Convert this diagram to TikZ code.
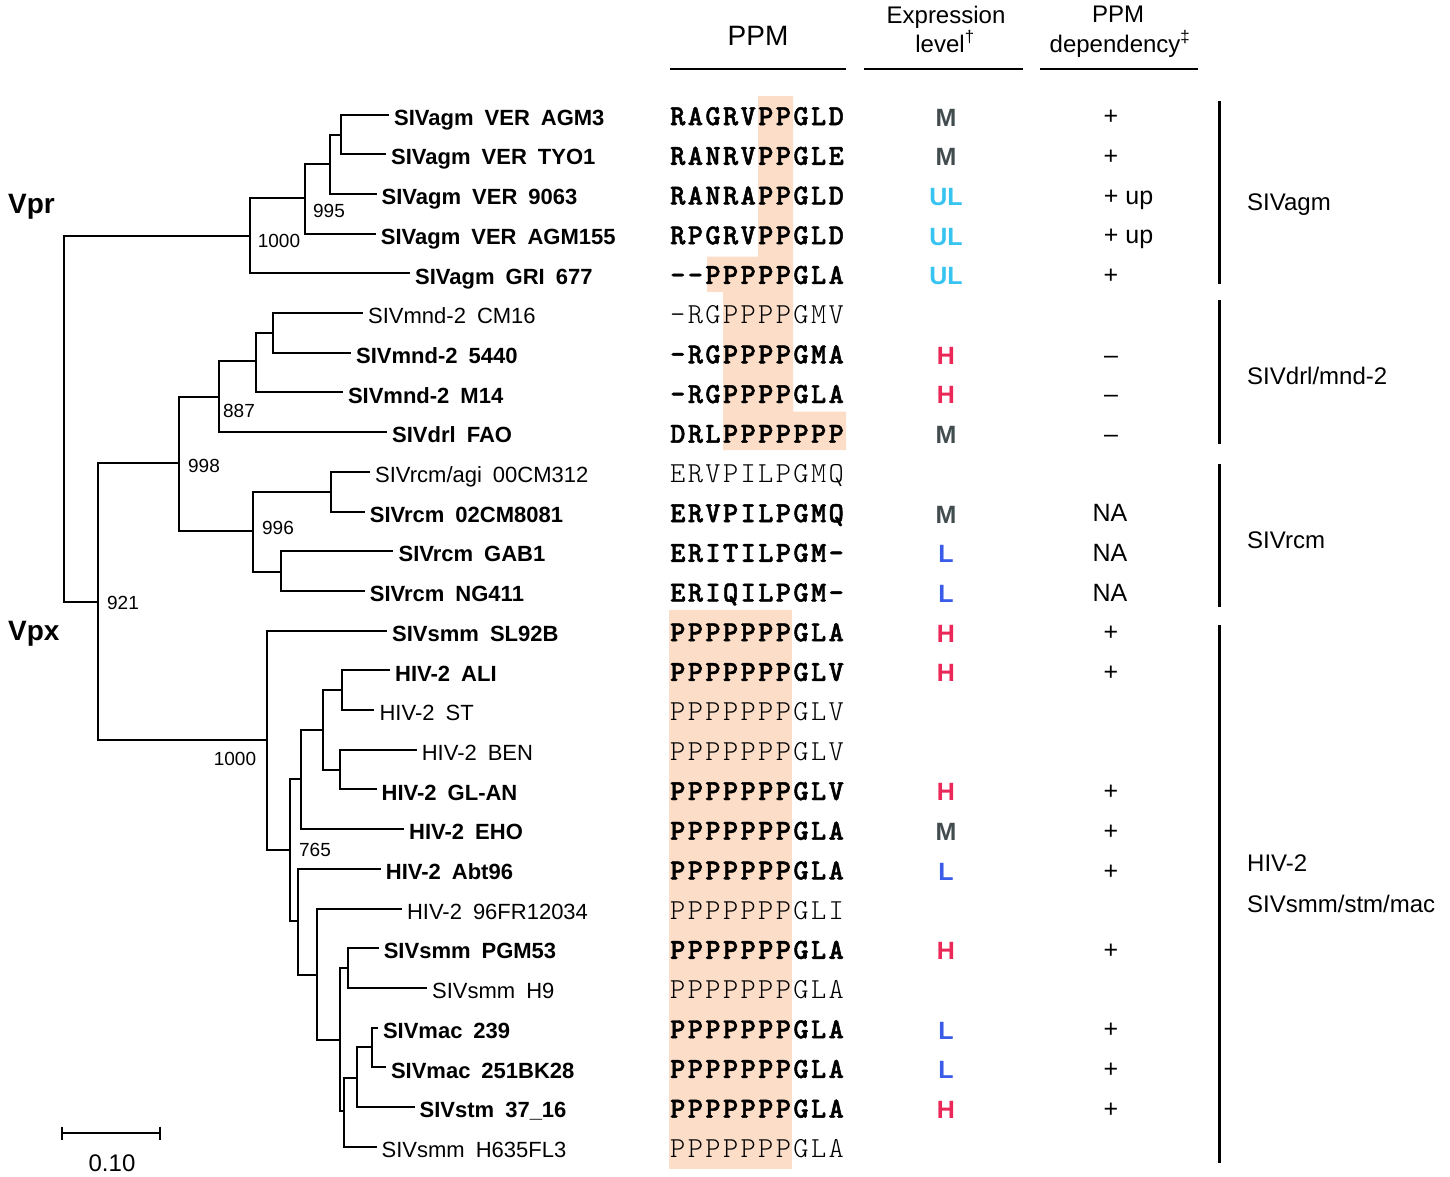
\documentclass[tikz,border=0pt]{standalone}
\usepackage{fontspec}
\setmainfont{Liberation Sans}
\newfontfamily\ppmfont{lmmonolt10}[Extension=.otf, UprightFont=*-regular, BoldFont=*-bold, BoldFeatures={FakeBold=1.6}, LetterSpace=8.2]
\usetikzlibrary{positioning}
\definecolor{ppmshade}{RGB}{251,221,200}
\definecolor{levM}{RGB}{66,76,79}
\definecolor{levUL}{RGB}{56,196,240}
\definecolor{levH}{RGB}{236,40,88}
\definecolor{levL}{RGB}{58,92,232}
\newcommand{\taxspace}{\spaceskip=0.5em\relax}
\tikzstyle{branch} = [line width=2pt, line cap=rect]
\tikzstyle{taxon} = [anchor=base west, inner sep=0pt, xshift=6pt, yshift=-10.7pt, font=\fontsize{22}{26}\selectfont\taxspace]
\tikzstyle{taxonb} = [taxon, font=\fontsize{22}{26}\selectfont\bfseries\taxspace]
\tikzstyle{boot} = [inner sep=0pt, font=\fontsize{19}{22}\selectfont]
\tikzstyle{gene} = [anchor=base west, inner sep=0pt, font=\fontsize{28}{32}\selectfont\bfseries]
\tikzstyle{motif} = [anchor=base west, inner sep=0pt, yshift=-10.6pt, font=\ppmfont\fontsize{29}{32}\selectfont]
\tikzstyle{motifb} = [motif, font=\ppmfont\bfseries\fontsize{29}{32}\selectfont]
\tikzstyle{level} = [anchor=base, inner sep=0pt, yshift=-11.5pt, font=\fontsize{25}{28}\selectfont\bfseries]
\tikzstyle{dep} = [anchor=base, inner sep=0pt, yshift=-10.3pt, font=\fontsize{25}{28}\selectfont]
\tikzstyle{depup} = [dep, anchor=base west, xshift=-7.3pt]
\tikzstyle{head} = [anchor=base, inner sep=0pt, font=\fontsize{24}{28}\selectfont]
\tikzstyle{clade} = [anchor=base west, inner sep=0pt, font=\fontsize{24}{28}\selectfont]
\tikzstyle{rule} = [line width=2pt]
\tikzstyle{bar} = [line width=3pt]

\begin{document}
\begin{tikzpicture}[x=1pt, y=-1pt]
\useasboundingbox (0,0) rectangle (1450,1176);

% PPM shading
\fill[ppmshade] (758,96) -- (793,96) -- (793,411.7) -- (846,411.7) -- (846,450) -- (723,450) -- (723,292) -- (707,292) -- (707,256.7) -- (758,256.7) -- cycle;
\fill[ppmshade] (669,610) rectangle (792,1169);

% inner nodes of the tree
\coordinate (root) at (64,419);
\coordinate (vpr) at (250,235.7);
\coordinate (agmA) at (304.6,198);
\coordinate (agmB) at (329.5,164);
\coordinate (agmC) at (341,135);
\coordinate (vpx) at (97.9,602.3);
\coordinate (drlrcm) at (179.3,463.3);
\coordinate (drl) at (219.4,397.3);
\coordinate (mndA) at (256,361);
\coordinate (mndB) at (273.4,332.7);
\coordinate (rcm) at (253,530.7);
\coordinate (rcmA) at (331,491.7);
\coordinate (rcmB) at (280.6,571.7);
\coordinate (hiv) at (267,740);
\coordinate (hivA) at (289.5,850);
\coordinate (hivB) at (300.8,779);
\coordinate (hivC) at (322.8,730);
\coordinate (hivD) at (341.8,690);
\coordinate (hivE) at (339.7,770);
\coordinate (smmA) at (297.5,920.7);
\coordinate (smmB) at (316.5,975);
\coordinate (smmC) at (339.7,1040);
\coordinate (smmD) at (348,968.3);
\coordinate (smmE) at (343.9,1110.7);
\coordinate (macA) at (356.5,1078.3);
\coordinate (macB) at (372,1046.7);

% leaves
\coordinate (t1) at (388,114.5);
\coordinate (t2) at (385,154.2);
\coordinate (t3) at (375.5,193.9);
\coordinate (t4) at (374.7,233.6);
\coordinate (t5) at (409,273.3);
\coordinate (t6) at (362,313.0);
\coordinate (t7) at (350,352.7);
\coordinate (t8) at (341.8,392.4);
\coordinate (t9) at (386,432.1);
\coordinate (t10) at (369,471.8);
\coordinate (t11) at (363.7,511.5);
\coordinate (t12) at (392.4,551.2);
\coordinate (t13) at (363.7,590.9);
\coordinate (t14) at (386,630.6);
\coordinate (t15) at (389,670.3);
\coordinate (t16) at (373.4,710.0);
\coordinate (t17) at (415.6,749.7);
\coordinate (t18) at (375.5,789.4);
\coordinate (t19) at (403,829.1);
\coordinate (t20) at (379.7,868.8);
\coordinate (t21) at (400.8,908.5);
\coordinate (t22) at (377.6,948.2);
\coordinate (t23) at (426,987.9);
\coordinate (t24) at (376.8,1027.6);
\coordinate (t25) at (384.8,1067.3);
\coordinate (t26) at (413.5,1107.0);
\coordinate (t27) at (375.5,1146.7);

\node (agm3) [taxonb] at (t1) {SIVagm VER AGM3};
\node (tyo1) [taxonb] at (t2) {SIVagm VER TYO1};
\node (v9063) [taxonb] at (t3) {SIVagm VER 9063};
\node (agm155) [taxonb] at (t4) {SIVagm VER AGM155};
\node (gri677) [taxonb] at (t5) {SIVagm GRI 677};
\node (cm16) [taxon] at (t6) {SIVmnd-2 CM16};
\node (m5440) [taxonb] at (t7) {SIVmnd-2 5440};
\node (m14) [taxonb] at (t8) {SIVmnd-2 M14};
\node (fao) [taxonb] at (t9) {SIVdrl FAO};
\node (cm312) [taxon] at (t10) {SIVrcm/agi 00CM312};
\node (cm8081) [taxonb] at (t11) {SIVrcm 02CM8081};
\node (gab1) [taxonb] at (t12) {SIVrcm GAB1};
\node (ng411) [taxonb] at (t13) {SIVrcm NG411};
\node (sl92b) [taxonb] at (t14) {SIVsmm SL92B};
\node (ali) [taxonb] at (t15) {HIV-2 ALI};
\node (st) [taxon] at (t16) {HIV-2 ST};
\node (ben) [taxon] at (t17) {HIV-2 BEN};
\node (glan) [taxonb] at (t18) {HIV-2 GL-AN};
\node (eho) [taxonb] at (t19) {HIV-2 EHO};
\node (abt96) [taxonb] at (t20) {HIV-2 Abt96};
\node (fr12034) [taxon] at (t21) {HIV-2 96FR12034};
\node (pgm53) [taxonb] at (t22) {SIVsmm PGM53};
\node (h9) [taxon] at (t23) {SIVsmm H9};
\node (mac239) [taxonb] at (t24) {SIVmac 239};
\node (bk28) [taxonb] at (t25) {SIVmac 251BK28};
\node (stm) [taxonb] at (t26) {SIVstm 37\_16};
\node (h635) [taxon] at (t27) {SIVsmm H635FL3};

% branches
\draw[branch] (root) |- (vpr) (root) |- (vpx);
\draw[branch] (vpr) |- (agmA) (vpr) |- (t5);
\draw[branch] (agmA) |- (agmB) (agmA) |- (t4);
\draw[branch] (agmB) |- (agmC) (agmB) |- (t3);
\draw[branch] (agmC) |- (t1) (agmC) |- (t2);
\draw[branch] (vpx) |- (drlrcm) (vpx) |- (hiv);
\draw[branch] (drlrcm) |- (drl) (drlrcm) |- (rcm);
\draw[branch] (drl) |- (mndA) (drl) |- (t9);
\draw[branch] (mndA) |- (mndB) (mndA) |- (t8);
\draw[branch] (mndB) |- (t6) (mndB) |- (t7);
\draw[branch] (rcm) |- (rcmA) (rcm) |- (rcmB);
\draw[branch] (rcmA) |- (t10) (rcmA) |- (t11);
\draw[branch] (rcmB) |- (t12) (rcmB) |- (t13);
\draw[branch] (hiv) |- (t14) (hiv) |- (hivA);
\draw[branch] (hivA) |- (hivB) (hivA) |- (smmA);
\draw[branch] (hivB) |- (hivC) (hivB) |- (t19);
\draw[branch] (hivC) |- (hivD) (hivC) |- (hivE);
\draw[branch] (hivD) |- (t15) (hivD) |- (t16);
\draw[branch] (hivE) |- (t17) (hivE) |- (t18);
\draw[branch] (smmA) |- (t20) (smmA) |- (smmB);
\draw[branch] (smmB) |- (t21) (smmB) |- (smmC);
\draw[branch] (smmC) |- (smmD) (smmC) |- (smmE);
\draw[branch] (smmD) |- (t22) (smmD) |- (t23);
\draw[branch] (smmE) |- (macA) (smmE) |- (t27);
\draw[branch] (macA) |- (macB) (macA) |- (t26);
\draw[branch] (macB) |- (t24) (macB) |- (t25);

% bootstrap values
\node (b995) [boot] at (329,211) {995};
\node (b1000a) [boot] at (279,241) {1000};
\node (b887) [boot] at (239,411) {887};
\node (b998) [boot] at (204,466) {998};
\node (b996) [boot] at (278,528) {996};
\node (b921) [boot] at (123,603) {921};
\node (b1000b) [boot] at (235,759) {1000};
\node (b765) [boot] at (315,850) {765};

\node (vprlab) [gene] at (8,213) {Vpr};
\node (vpxlab) [gene] at (8,640) {Vpx};

% scale bar
\coordinate (sb1) at (62,1133);
\coordinate (sb2) at (160,1133);
\draw[line width=1.8pt] (sb1) -- (sb2);
\draw[line width=1.8pt] ([yshift=6.5pt]sb1) -- ([yshift=-6.5pt]sb1);
\draw[line width=1.8pt] ([yshift=6.5pt]sb2) -- ([yshift=-6.5pt]sb2);
\node (scale) [head] at (112,1171.7) {0.10};

% headers
\node (hppm) [head, font=\fontsize{28}{32}\selectfont] at (758,45) {PPM};
\node (hexp1) [head] at (946,23) {Expression};
\node (hexp2) [head] at (945,52) {level\textsuperscript{†}};
\node (hdep1) [head] at (1118,22) {PPM};
\node (hdep2) [head] at (1120,52) {dependency\textsuperscript{‡}};
\draw[rule] (670,69.3) -- (846,69.3);
\draw[rule] (864,69.3) -- (1023,69.3);
\draw[rule] (1040,69.3) -- (1198,69.3);

% PPM motifs
\node (ppm1) [motifb] at (670,114.5) {RAGRVPPGLD};
\node (ppm2) [motifb] at (670,154.2) {RANRVPPGLE};
\node (ppm3) [motifb] at (670,193.9) {RANRAPPGLD};
\node (ppm4) [motifb] at (670,233.6) {RPGRVPPGLD};
\node (ppm5) [motifb] at (670,273.3) {--PPPPPGLA};
\node (ppm6) [motif] at (670,313.0) {-RGPPPPGMV};
\node (ppm7) [motifb] at (670,352.7) {-RGPPPPGMA};
\node (ppm8) [motifb] at (670,392.4) {-RGPPPPGLA};
\node (ppm9) [motifb] at (670,432.1) {DRLPPPPPPP};
\node (ppm10) [motif] at (670,471.8) {ERVPILPGMQ};
\node (ppm11) [motifb] at (670,511.5) {ERVPILPGMQ};
\node (ppm12) [motifb] at (670,551.2) {ERITILPGM-};
\node (ppm13) [motifb] at (670,590.9) {ERIQILPGM-};
\node (ppm14) [motifb] at (670,630.6) {PPPPPPPGLA};
\node (ppm15) [motifb] at (670,670.3) {PPPPPPPGLV};
\node (ppm16) [motif] at (670,710.0) {PPPPPPPGLV};
\node (ppm17) [motif] at (670,749.7) {PPPPPPPGLV};
\node (ppm18) [motifb] at (670,789.4) {PPPPPPPGLV};
\node (ppm19) [motifb] at (670,829.1) {PPPPPPPGLA};
\node (ppm20) [motifb] at (670,868.8) {PPPPPPPGLA};
\node (ppm21) [motif] at (670,908.5) {PPPPPPPGLI};
\node (ppm22) [motifb] at (670,948.2) {PPPPPPPGLA};
\node (ppm23) [motif] at (670,987.9) {PPPPPPPGLA};
\node (ppm24) [motifb] at (670,1027.6) {PPPPPPPGLA};
\node (ppm25) [motifb] at (670,1067.3) {PPPPPPPGLA};
\node (ppm26) [motifb] at (670,1107.0) {PPPPPPPGLA};
\node (ppm27) [motif] at (670,1146.7) {PPPPPPPGLA};

% expression level
\node (lev1) [level, levM] at (946,114.5) {M};
\node (lev2) [level, levM] at (946,154.2) {M};
\node (lev3) [level, levUL] at (946,193.9) {UL};
\node (lev4) [level, levUL] at (946,233.6) {UL};
\node (lev5) [level, levUL] at (946,273.3) {UL};
\node (lev7) [level, levH] at (946,352.7) {H};
\node (lev8) [level, levH] at (946,392.4) {H};
\node (lev9) [level, levM] at (946,432.1) {M};
\node (lev11) [level, levM] at (946,511.5) {M};
\node (lev12) [level, levL] at (946,551.2) {L};
\node (lev13) [level, levL] at (946,590.9) {L};
\node (lev14) [level, levH] at (946,630.6) {H};
\node (lev15) [level, levH] at (946,670.3) {H};
\node (lev18) [level, levH] at (946,789.4) {H};
\node (lev19) [level, levM] at (946,829.1) {M};
\node (lev20) [level, levL] at (946,868.8) {L};
\node (lev22) [level, levH] at (946,948.2) {H};
\node (lev24) [level, levL] at (946,1027.6) {L};
\node (lev25) [level, levL] at (946,1067.3) {L};
\node (lev26) [level, levH] at (946,1107.0) {H};

% PPM dependency
\node (dep1) [dep] at (1111,114.5) {+};
\node (dep2) [dep] at (1111,154.2) {+};
\node (dep3) [depup] at (1111,193.9) {+ up};
\node (dep4) [depup] at (1111,233.6) {+ up};
\node (dep5) [dep] at (1111,273.3) {+};
\node (dep7) [dep] at (1111,352.7) {\textendash};
\node (dep8) [dep] at (1111,392.4) {\textendash};
\node (dep9) [dep] at (1111,432.1) {\textendash};
\node (dep11) [dep] at (1110,511.5) {NA};
\node (dep12) [dep] at (1110,551.2) {NA};
\node (dep13) [dep] at (1110,590.9) {NA};
\node (dep14) [dep] at (1111,630.6) {+};
\node (dep15) [dep] at (1111,670.3) {+};
\node (dep18) [dep] at (1111,789.4) {+};
\node (dep19) [dep] at (1111,829.1) {+};
\node (dep20) [dep] at (1111,868.8) {+};
\node (dep22) [dep] at (1111,948.2) {+};
\node (dep24) [dep] at (1111,1027.6) {+};
\node (dep25) [dep] at (1111,1067.3) {+};
\node (dep26) [dep] at (1111,1107.0) {+};

% clade bars
\draw[bar] (1219,101) -- (1219,284);
\draw[bar] (1219,300) -- (1219,444);
\draw[bar] (1219,464) -- (1219,607);
\draw[bar] (1219,625) -- (1219,1163);
\node (cagm) [clade] at (1247,210) {SIVagm};
\node (cdrl) [clade] at (1247,384) {SIVdrl/mnd-2};
\node (crcm) [clade] at (1247,548) {SIVrcm};
\node (chiv) [clade] at (1247,871) {HIV-2};
\node (csmm) [clade] at (1247,912) {SIVsmm/stm/mac};
\end{tikzpicture}
\end{document}
